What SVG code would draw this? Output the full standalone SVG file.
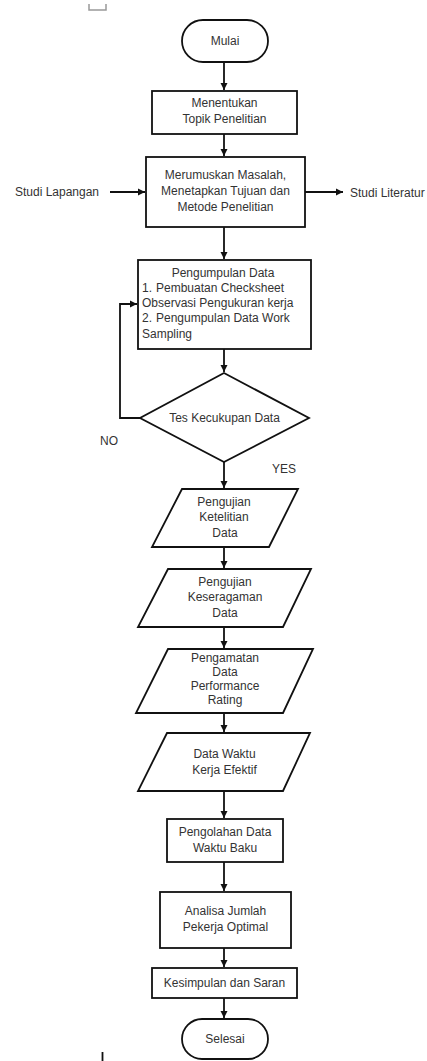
<svg xmlns="http://www.w3.org/2000/svg" width="427" height="1061" viewBox="0 0 427 1061">
<style>
.s{fill:#fff;stroke:#111;stroke-width:1.8}
.t{font-family:"Liberation Sans",Arial,sans-serif;font-size:12px;fill:#333;text-anchor:middle}
.l{text-anchor:start}
.c{fill:none;stroke:#111;stroke-width:1.8}
</style>
<defs>
<marker id="a" markerUnits="userSpaceOnUse" markerWidth="8" markerHeight="8" refX="7" refY="4" orient="auto">
<path d="M0,0.5 L7,4 L0,7.5 Z" fill="#111"/>
</marker>
</defs>
<rect width="427" height="1061" fill="#fff"/>
<path d="M89,4 V10 H106 V4" fill="none" stroke="#999" stroke-width="1.5"/>
<path d="M102.5,1052 V1061" stroke="#111" stroke-width="1.8"/>
<g id="connectors">
<path class="c" d="M224,62 V90" marker-end="url(#a)"/>
<path class="c" d="M224,134 V156" marker-end="url(#a)"/>
<path class="c" d="M110,192 H145" marker-end="url(#a)"/>
<path class="c" d="M305,192 H343" marker-end="url(#a)"/>
<path class="c" d="M224,227 V259" marker-end="url(#a)"/>
<path class="c" d="M224,349 V372" marker-end="url(#a)"/>
<path class="c" d="M140,418 H120 V304 H137" marker-end="url(#a)"/>
<path class="c" d="M224,462 V488" marker-end="url(#a)"/>
<path class="c" d="M224,547 V568" marker-end="url(#a)"/>
<path class="c" d="M224,627 V648" marker-end="url(#a)"/>
<path class="c" d="M224,713 V732" marker-end="url(#a)"/>
<path class="c" d="M224,791 V818" marker-end="url(#a)"/>
<path class="c" d="M224,862 V891" marker-end="url(#a)"/>
<path class="c" d="M224,948 V967" marker-end="url(#a)"/>
<path class="c" d="M224,998 V1018" marker-end="url(#a)"/>
<text class="t" x="109" y="445">NO</text>
<text class="t" x="284" y="473">YES</text>
</g>
<g id="mulai"><rect class="s" x="182" y="20" width="86" height="42" rx="21"/><text class="t" x="225" y="45">Mulai</text></g>
<g id="topik"><rect class="s" x="152" y="91" width="145" height="43"/><text class="t" x="224.5" y="107">Menentukan</text><text class="t" x="224.5" y="123">Topik Penelitian</text></g>
<g id="studi-lapangan"><text class="t" x="57" y="196">Studi Lapangan</text></g>
<g id="rumusan"><rect class="s" x="146" y="157" width="159" height="70"/><text class="t" x="225.5" y="179">Merumuskan Masalah,</text><text class="t" x="225.5" y="195">Menetapkan Tujuan dan</text><text class="t" x="225.5" y="211">Metode Penelitian</text></g>
<g id="studi-literatur"><text class="t l" x="350" y="197">Studi Literatur</text></g>
<g id="pengumpulan"><rect class="s" x="138" y="260" width="173" height="89"/>
<text class="t" x="223" y="277">Pengumpulan Data</text>
<text class="t l" x="142" y="292">1.</text><text class="t l" x="156" y="292">Pembuatan Checksheet</text>
<text class="t l" x="142" y="307">Observasi Pengukuran kerja</text>
<text class="t l" x="142" y="322">2.</text><text class="t l" x="156" y="322">Pengumpulan Data Work</text>
<text class="t l" x="142" y="338">Sampling</text></g>
<g id="tes"><path class="s" d="M224,373 L309,418 L224,462 L140,418 Z"/><text class="t" x="224.5" y="422">Tes Kecukupan Data</text></g>
<g id="ketelitian"><path class="s" d="M182,489 H298 L269,547 H152 Z"/><text class="t" x="224" y="506">Pengujian</text><text class="t" x="224" y="521">Ketelitian</text><text class="t" x="225" y="537">Data</text></g>
<g id="keseragaman"><path class="s" d="M168,569 H311 L283,627 H138 Z"/><text class="t" x="225" y="586">Pengujian</text><text class="t" x="225" y="601">Keseragaman</text><text class="t" x="225" y="617">Data</text></g>
<g id="performance"><path class="s" d="M168,649 H313 L283,713 H136 Z"/><text class="t" x="225" y="662">Pengamatan</text><text class="t" x="225" y="676">Data</text><text class="t" x="225" y="690">Performance</text><text class="t" x="225" y="704">Rating</text></g>
<g id="efektif"><path class="s" d="M167,733 H310 L283,791 H138 Z"/><text class="t" x="224.5" y="758">Data Waktu</text><text class="t" x="224.5" y="774">Kerja Efektif</text></g>
<g id="baku"><rect class="s" x="167" y="819" width="116" height="43"/><text class="t" x="225" y="836">Pengolahan Data</text><text class="t" x="225" y="852">Waktu Baku</text></g>
<g id="analisa"><rect class="s" x="160" y="892" width="131" height="56"/><text class="t" x="225.5" y="915">Analisa Jumlah</text><text class="t" x="225.5" y="931">Pekerja Optimal</text></g>
<g id="kesimpulan"><rect class="s" x="152" y="968" width="145" height="30"/><text class="t" x="224.5" y="987">Kesimpulan dan Saran</text></g>
<g id="selesai"><rect class="s" x="182" y="1019" width="86" height="40" rx="20"/><text class="t" x="225" y="1043">Selesai</text></g>
</svg>
